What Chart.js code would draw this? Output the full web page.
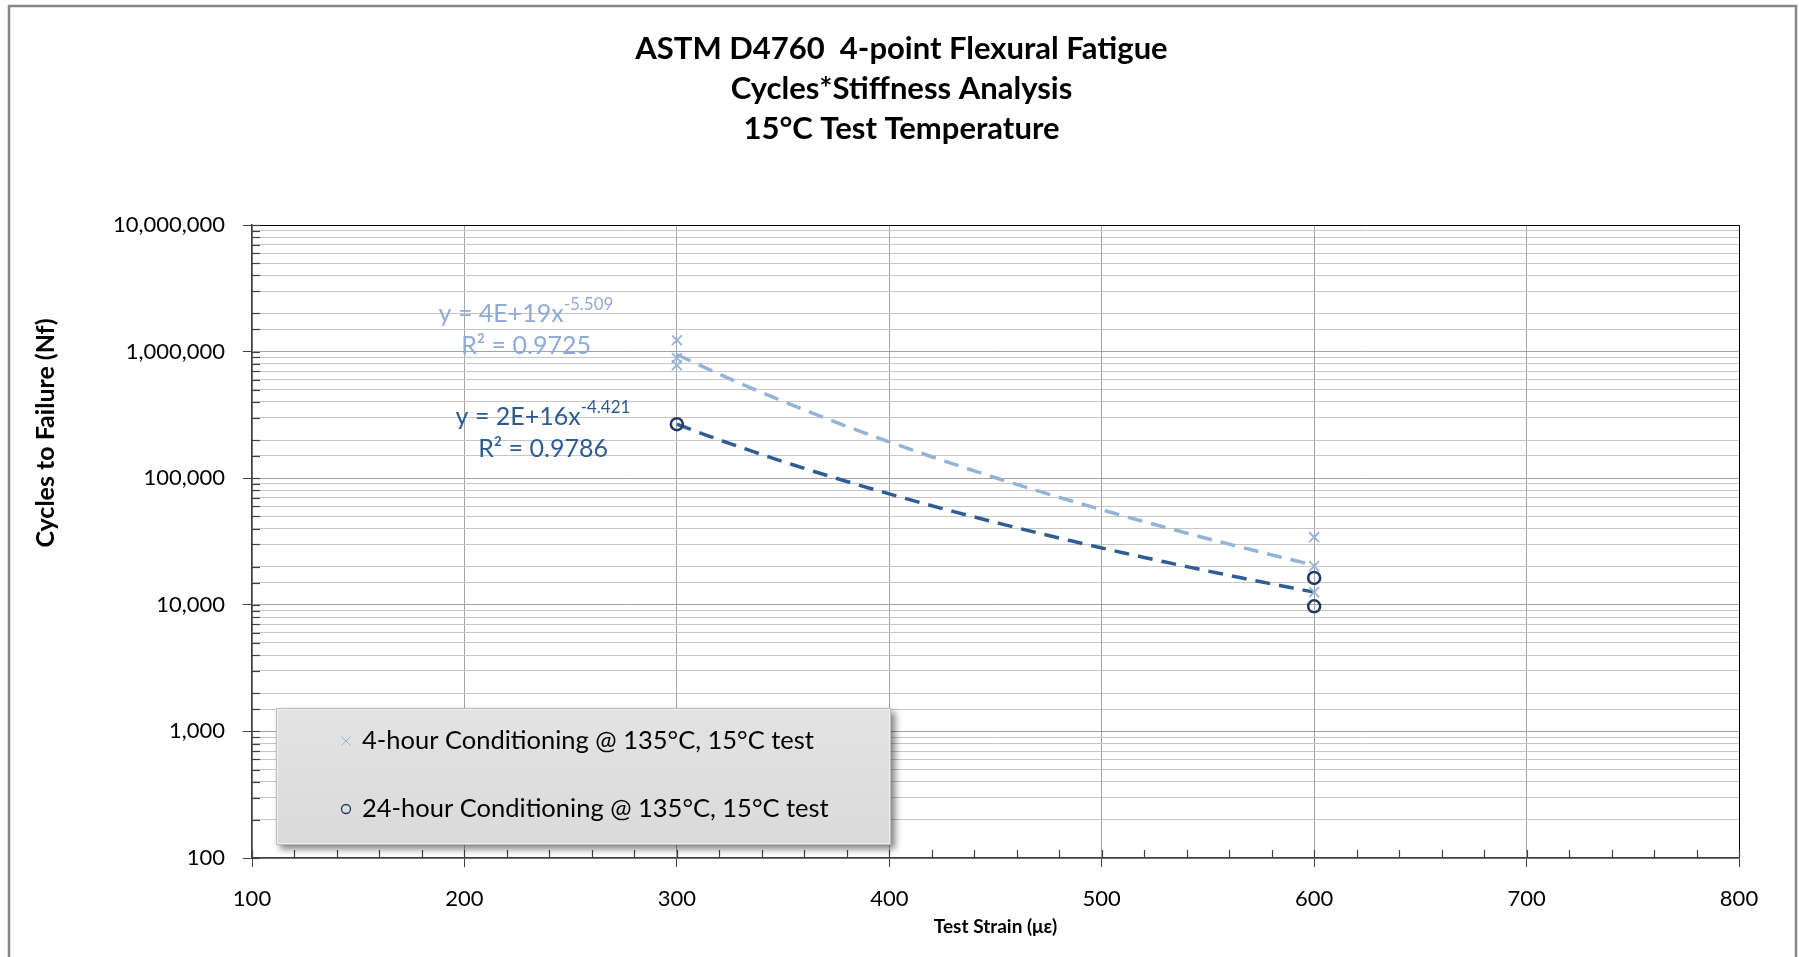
<!DOCTYPE html>
<html>
<head>
<meta charset="utf-8">
<script src="https://cdn.jsdelivr.net/npm/chart.js@4.4.1/dist/chart.umd.min.js"></script>
<style>
  html, body { margin: 0; padding: 0; background: #fff; }
  canvas { display: block; }
</style>
</head>
<body>
<canvas id="myChart" width="1799" height="957"></canvas>
<script>
// values
const strain4h = [300, 300, 300, 600, 600, 600];
const cycles4h = [1230000, 890000, 780000, 34200, 20200, 12600];
const strain24h = [300, 600, 600];
const cycles24h = [267000, 16300, 9730];

const seriesLabels = [
    '4-hour Conditioning @ 135°C, 15°C test',
    '24-hour Conditioning @ 135°C, 15°C test'
];
// trendline equations as printed on the chart
const eqCoef = ['4E+19', '2E+16'];
const eqExp = ['-5.509', '-4.421'];
const eqR2 = ['0.9725', '0.9786'];
// where each equation box sits, in data units (x centre, y of line 1, y of line 2)
const eqAnchorX = [229, 237];
const eqAnchorY1 = [1980000, 303000];
const eqAnchorY2 = [1100000, 169000];

const titleLines = ['ASTM D4760  4-point Flexural Fatigue', 'Cycles*Stiffness Analysis', '15°C Test Temperature'];

const LIGHT = '#95b3d7';
const DARK_LINE = '#2f5e96';
const DARK_MARK = '#1f3864';
const FONT = 'Lato, "Open Sans", sans-serif';

const isDecade = (v) => Math.abs(Math.log10(v) - Math.round(Math.log10(v))) < 1e-9;

// least squares power fit y = a*x^b, like the Excel trendline
const powerFit = (xs, ys) => {
    const lx = xs.map(Math.log10), ly = ys.map(Math.log10);
    const n = lx.length;
    const mx = lx.reduce((s, v) => s + v, 0) / n;
    const my = ly.reduce((s, v) => s + v, 0) / n;
    let sxy = 0, sxx = 0;
    for (let i = 0; i < n; i++) {
        sxy += (lx[i] - mx) * (ly[i] - my);
        sxx += (lx[i] - mx) * (lx[i] - mx);
    }
    const b = sxy / sxx;
    return { a: Math.pow(10, my - b * mx), b };
};

const frame = {
    id: 'frame',
    beforeDraw(chart) {
        const c = chart.ctx;
        c.save();
        c.fillStyle = '#fff';
        c.fillRect(0, 0, chart.width, chart.height);
        c.strokeStyle = '#878787';
        c.lineWidth = 2.5;
        c.strokeRect(9, 6, chart.width - 12, chart.height + 40);
        c.restore();
    }
};

const trendlines = {
    id: 'trendlines',
    beforeDatasetsDraw(chart) {
        const c = chart.ctx;
        const { x, y } = chart.scales;
        const area = chart.chartArea;
        // plot area border + inner tick marks
        c.save();
        c.strokeStyle = '#000';
        c.lineWidth = 1;
        c.beginPath();
        c.moveTo(area.left, area.top + 0.5);
        c.lineTo(area.right + 0.5, area.top + 0.5);
        c.lineTo(area.right + 0.5, area.bottom);
        c.stroke();
        c.strokeStyle = '#404040';
        c.lineWidth = 1.2;
        y.ticks.forEach(t => {
            const py = Math.round(y.getPixelForValue(t.value)) + 0.5;
            c.beginPath();
            c.moveTo(area.left, py);
            c.lineTo(area.left + 8, py);
            c.stroke();
        });
        x.ticks.forEach(t => {
            const px = Math.round(x.getPixelForValue(t.value)) + 0.5;
            c.beginPath();
            c.moveTo(px, area.bottom);
            c.lineTo(px, area.bottom - 8);
            c.stroke();
        });
        c.restore();

        // power trendlines
        c.save();
        c.beginPath();
        c.rect(area.left, area.top, area.right - area.left, area.bottom - area.top);
        c.clip();
        chart.data.datasets.forEach((ds, i) => {
            const xs = ds.data.map(p => p.x), ys = ds.data.map(p => p.y);
            const fit = powerFit(xs, ys);
            const x0 = Math.min(...xs), x1 = Math.max(...xs);
            c.strokeStyle = ds.trendColor;
            c.lineWidth = 3.5;
            c.setLineDash([15, 9]);
            c.beginPath();
            for (let k = 0; k <= 60; k++) {
                const xv = x0 + (x1 - x0) * k / 60;
                const px = x.getPixelForValue(xv);
                const py = y.getPixelForValue(fit.a * Math.pow(xv, fit.b));
                if (k === 0) c.moveTo(px, py); else c.lineTo(px, py);
            }
            c.stroke();
        });
        c.restore();
    }
};

const annotations = {
    id: 'annotations',
    afterDraw(chart) {
        const c = chart.ctx;
        const { x, y } = chart.scales;
        const area = chart.chartArea;
        c.save();

        // trendline equations
        chart.data.datasets.forEach((ds, i) => {
            const cx = x.getPixelForValue(eqAnchorX[i]);
            const y1 = y.getPixelForValue(eqAnchorY1[i]);
            const y2 = y.getPixelForValue(eqAnchorY2[i]);
            const main = 'y = ' + eqCoef[i] + 'x';
            c.fillStyle = ds.eqColor;
            c.textBaseline = 'middle';
            c.font = '25px ' + FONT;
            const wMain = c.measureText(main).width;
            c.font = '17px ' + FONT;
            const wSup = c.measureText(eqExp[i]).width;
            const sx = cx - (wMain + wSup) / 2;
            c.textAlign = 'left';
            c.font = '25px ' + FONT;
            c.fillText(main, sx, y1);
            c.font = '17px ' + FONT;
            c.fillText(eqExp[i], sx + wMain, y1 - 10);
            c.font = '25px ' + FONT;
            c.textAlign = 'center';
            c.fillText('R² = ' + eqR2[i], cx, y2);
        });

        // y axis title
        c.save();
        c.translate(46, 433);
        c.rotate(-Math.PI / 2);
        c.font = 'bold 25px ' + FONT;
        c.fillStyle = '#000';
        c.textAlign = 'center';
        c.textBaseline = 'middle';
        c.fillText('Cycles to Failure (Nf)', 0, 0);
        c.restore();

        // legend box
        const lx = area.left + 24, ly = area.bottom - 150, lw = 615, lh = 137;
        c.save();
        c.shadowColor = 'rgba(0,0,0,0.5)';
        c.shadowBlur = 7;
        c.shadowOffsetX = 4;
        c.shadowOffsetY = 4;
        const g = c.createLinearGradient(lx, ly, lx, ly + lh);
        g.addColorStop(0, '#e3e3e3');
        g.addColorStop(1, '#dadada');
        c.fillStyle = g;
        c.fillRect(lx, ly, lw, lh);
        c.restore();
        c.strokeStyle = '#f4f4f4';
        c.lineWidth = 1.5;
        c.strokeRect(lx + 1, ly + 1, lw - 2, lh - 2);
        c.strokeStyle = '#bdbdbd';
        c.lineWidth = 1;
        c.strokeRect(lx + 0.5, ly + 0.5, lw - 1, lh - 1);

        c.font = '25.5px ' + FONT;
        c.textAlign = 'left';
        c.textBaseline = 'middle';
        chart.data.datasets.forEach((ds, i) => {
            const rowY = ly + 33 + i * 68;
            const mx = lx + 70;
            c.strokeStyle = ds.borderColor;
            c.lineWidth = i === 0 ? 1 : 1.3;
            c.beginPath();
            if (i === 0) {
                c.moveTo(mx - 4.5, rowY - 4.5); c.lineTo(mx + 4.5, rowY + 4.5);
                c.moveTo(mx - 4.5, rowY + 4.5); c.lineTo(mx + 4.5, rowY - 4.5);
            } else {
                c.arc(mx, rowY, 4.5, 0, Math.PI * 2);
            }
            c.stroke();
            c.fillStyle = '#000';
            c.fillText(ds.label, lx + 86, rowY);
        });
        c.restore();
    }
};

const ctx = document.getElementById('myChart');
new Chart(ctx, {
    type: 'scatter',
    data: {
        datasets: [
            {
                label: seriesLabels[0],
                data: strain4h.map((v, i) => ({ x: v, y: cycles4h[i] })),
                pointStyle: 'crossRot',
                radius: 7,
                borderWidth: 1.8,
                borderColor: LIGHT,
                backgroundColor: LIGHT,
                trendColor: LIGHT,
                eqColor: '#8eaad5'
            },
            {
                label: seriesLabels[1],
                data: strain24h.map((v, i) => ({ x: v, y: cycles24h[i] })),
                pointStyle: 'circle',
                radius: 6,
                borderWidth: 2.5,
                borderColor: DARK_MARK,
                backgroundColor: 'rgba(0,0,0,0)',
                trendColor: DARK_LINE,
                eqColor: '#2d5b91'
            }
        ]
    },
    options: {
        responsive: false,
        animation: false,
        devicePixelRatio: 1,
        layout: { padding: { left: 64, right: 60, top: 0, bottom: 0 } },
        plugins: {
            legend: { display: false },
            tooltip: { enabled: false },
            title: {
                display: true,
                text: titleLines,
                color: '#000',
                font: { family: FONT, size: 31, weight: 'bold', lineHeight: '40px' },
                padding: { top: 29, bottom: 76 }
            }
        },
        scales: {
            x: {
                type: 'linear',
                min: 100,
                max: 800,
                afterFit: (s) => { s.height = 99; },
                ticks: {
                    stepSize: 20,
                    autoSkip: false,
                    maxRotation: 0,
                    padding: 19,
                    color: '#000',
                    font: { family: FONT, size: 22 },
                    callback: (v) => v % 100 === 0 ? String(v) : ''
                },
                grid: {
                    color: (c) => c.tick && c.tick.value % 100 === 0 ? '#a3a3a3' : 'rgba(0,0,0,0)',
                    tickColor: (c) => c.tick && c.tick.value % 100 === 0 ? '#404040' : 'rgba(0,0,0,0)',
                    tickLength: 9,
                    lineWidth: 1
                },
                border: { color: '#404040', width: 1.5 },
                title: {
                    display: true,
                    text: 'Test Strain (με)',
                    color: '#000',
                    font: { family: FONT, size: 19, weight: 'bold' },
                    padding: { top: 0, bottom: 19 }
                }
            },
            y: {
                type: 'logarithmic',
                min: 100,
                max: 10000000,
                afterFit: (s) => { s.width = 188; },
                ticks: {
                    autoSkip: false,
                    padding: 18,
                    color: '#000',
                    font: { family: FONT, size: 22 },
                    callback: (v) => isDecade(v) ? Number(v).toLocaleString('en-US') : ''
                },
                grid: {
                    color: (c) => c.tick && isDecade(c.tick.value) ? '#a3a3a3' : '#c6c6c6',
                    tickColor: (c) => c.tick && isDecade(c.tick.value) ? '#404040' : 'rgba(0,0,0,0)',
                    tickLength: 9,
                    lineWidth: 1
                },
                border: { color: '#404040', width: 1.5 }
            }
        }
    },
    plugins: [frame, trendlines, annotations]
});
</script>
</body>
</html>
